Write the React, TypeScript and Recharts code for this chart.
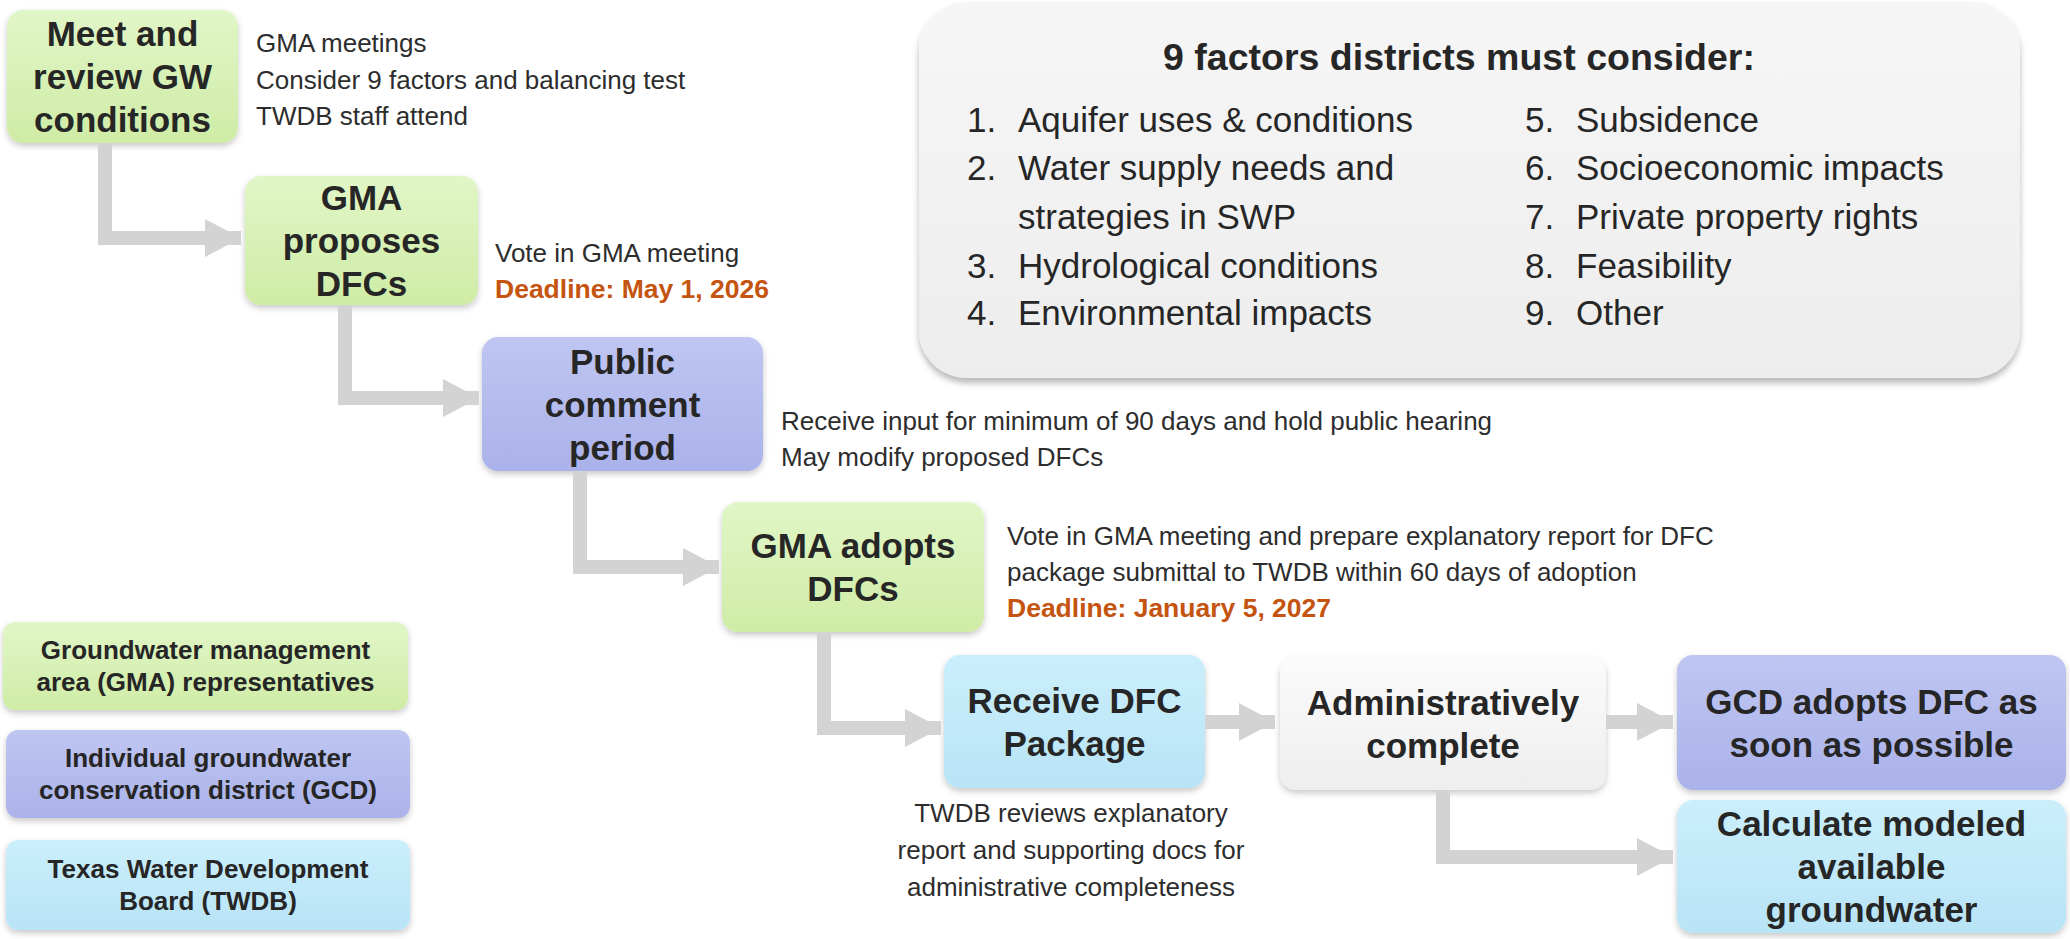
import { ScatterChart, Scatter, XAxis, YAxis, ReferenceArea } from "recharts";

const W = 2070;
const H = 939;
const FONT = '"Liberation Sans", Arial, Helvetica, sans-serif';
const INK = "#262626";
const NOTE_INK = "#2d2d2d";
const DEADLINE_INK = "#c4540f";
const ARROW = "#d3d3d3";

type Tone = "gma" | "gcd" | "twdb" | "admin" | "panel";

// flow steps, in page units (the axes map 1 unit to 1 px)
const steps = [
  { lines: ["Meet and", "review GW", "conditions"], x1: 7, x2: 238, y1: 10, y2: 143, tone: "gma" as Tone },
  { lines: ["GMA", "proposes", "DFCs"], x1: 245, x2: 478, y1: 176, y2: 305, tone: "gma" as Tone },
  { lines: ["Public", "comment", "period"], x1: 482, x2: 763, y1: 337, y2: 471, tone: "gcd" as Tone },
  { lines: ["GMA adopts", "DFCs"], x1: 722, x2: 984, y1: 502, y2: 632, tone: "gma" as Tone },
  { lines: ["Receive DFC", "Package"], x1: 944, x2: 1205, y1: 655, y2: 788, tone: "twdb" as Tone },
  { lines: ["Administratively", "complete"], x1: 1280, x2: 1606, y1: 657, y2: 790, tone: "admin" as Tone },
  { lines: ["GCD adopts DFC as", "soon as possible"], x1: 1677, x2: 2066, y1: 655, y2: 790, tone: "gcd" as Tone },
  { lines: ["Calculate modeled", "available", "groundwater"], x1: 1677, x2: 2066, y1: 800, y2: 933, tone: "twdb" as Tone },
];

const legendItems = [
  { lines: ["Groundwater management", "area (GMA) representatives"], x1: 3, x2: 408, y1: 622, y2: 710, tone: "gma" as Tone },
  { lines: ["Individual groundwater", "conservation district (GCD)"], x1: 6, x2: 410, y1: 730, y2: 818, tone: "gcd" as Tone },
  { lines: ["Texas Water Development", "Board (TWDB)"], x1: 6, x2: 410, y1: 840, y2: 930, tone: "twdb" as Tone },
];

const arrows = [
  [{ x: 105, y: 143 }, { x: 105, y: 238 }, { x: 241, y: 238 }],
  [{ x: 345, y: 305 }, { x: 345, y: 398 }, { x: 479, y: 398 }],
  [{ x: 580, y: 471 }, { x: 580, y: 567 }, { x: 719, y: 567 }],
  [{ x: 824, y: 632 }, { x: 824, y: 728 }, { x: 941, y: 728 }],
  [{ x: 1205, y: 722 }, { x: 1275, y: 722 }],
  [{ x: 1606, y: 722 }, { x: 1673, y: 722 }],
  [{ x: 1443, y: 790 }, { x: 1443, y: 857 }, { x: 1673, y: 857 }],
];

const notes = [
  { x: 256, y: 43, text: "GMA meetings", kind: "note" },
  { x: 256, y: 80, text: "Consider 9 factors and balancing test", kind: "note" },
  { x: 256, y: 116, text: "TWDB staff attend", kind: "note" },
  { x: 495, y: 253, text: "Vote in GMA meeting", kind: "note" },
  { x: 495, y: 289, text: "Deadline: May 1, 2026", kind: "deadline" },
  { x: 781, y: 421, text: "Receive input for minimum of 90 days and hold public hearing", kind: "note" },
  { x: 781, y: 457, text: "May modify proposed DFCs", kind: "note" },
  { x: 1007, y: 536, text: "Vote in GMA meeting and prepare explanatory report for DFC", kind: "note" },
  { x: 1007, y: 572, text: "package submittal to TWDB within 60 days of adoption", kind: "note" },
  { x: 1007, y: 608, text: "Deadline: January 5, 2027", kind: "deadline" },
  { x: 1071, y: 813, text: "TWDB reviews explanatory", kind: "center" },
  { x: 1071, y: 850, text: "report and supporting docs for", kind: "center" },
  { x: 1071, y: 887, text: "administrative completeness", kind: "center" },
];

const panel = { x1: 919, x2: 2020, y1: 2, y2: 378 };
const panelTitle = [{ x: 1459, y: 57, text: "9 factors districts must consider:" }];
const factorRows = [120, 168, 217, 266, 313];
const leftNums = ["1.", "2.", "", "3.", "4."];
const leftFactors = ["Aquifer uses & conditions", "Water supply needs and", "strategies in SWP", "Hydrological conditions", "Environmental impacts"];
const rightNums = ["5.", "6.", "7.", "8.", "9."];
const rightFactors = ["Subsidence", "Socioeconomic impacts", "Private property rights", "Feasibility", "Other"];

const factorPoints = [
  ...factorRows.map((y, i) => ({ x: 967, y, num: leftNums[i], text: leftFactors[i] })),
  ...factorRows.map((y, i) => ({ x: 1525, y, num: rightNums[i], text: rightFactors[i] })),
];

const fills: Record<Tone, [string, string]> = {
  gma: ["#e1f6c7", "#cfeca6"],
  gcd: ["#bfc6f2", "#aab2ea"],
  twdb: ["#cbeefb", "#b8e4f6"],
  admin: ["#fbfbfb", "#eeeeee"],
  panel: ["#f6f6f6", "#ededed"],
};

const Defs = () => (
  <defs>
    {(Object.keys(fills) as Tone[]).map((t) => (
      <linearGradient key={t} id={`grad-${t}`} x1="0" y1="0" x2="0" y2="1">
        <stop offset="0%" stopColor={fills[t][0]} />
        <stop offset="100%" stopColor={fills[t][1]} />
      </linearGradient>
    ))}
    <filter id="soft" x="-10%" y="-10%" width="120%" height="130%">
      <feDropShadow dx="0" dy="3" stdDeviation="3" floodColor="#000" floodOpacity="0.22" />
    </filter>
    <filter id="panelShadow" x="-5%" y="-5%" width="110%" height="115%">
      <feDropShadow dx="0" dy="5" stdDeviation="3" floodColor="#000" floodOpacity="0.28" />
    </filter>
  </defs>
);

const makeBox = (lines: string[], tone: Tone, fontSize: number, gap: number, radius: number) => (props: any) => {
  const { x, y, width, height } = props;
  const cx = x + width / 2;
  const cy = y + height / 2;
  const n = lines.length;
  return (
    <g>
      <rect x={x} y={y} width={width} height={height} rx={radius} fill={`url(#grad-${tone})`} filter="url(#soft)" />
      {lines.map((t, i) => (
        <text
          key={i}
          x={cx}
          y={cy + (i - (n - 1) / 2) * gap + fontSize * 0.36}
          textAnchor="middle"
          fontFamily={FONT}
          fontWeight="bold"
          fontSize={fontSize}
          fill={INK}
        >
          {t}
        </text>
      ))}
    </g>
  );
};

const panelShape = (props: any) => {
  const { x, y, width, height } = props;
  return (
    <g>
      <Defs />
      <rect x={x} y={y} width={width} height={height} rx={48} fill="url(#grad-panel)" filter="url(#panelShadow)" />
    </g>
  );
};

const ArrowHead = (props: any) => {
  const { cx, cy, payload } = props;
  if (!payload.tip) return <g />;
  return <polygon points={`${cx - 36},${cy - 19} ${cx},${cy} ${cx - 36},${cy + 19}`} fill={ARROW} />;
};

const NoteText = (props: any) => {
  const { cx, cy, payload } = props;
  const deadline = payload.kind === "deadline";
  return (
    <text
      x={cx}
      y={cy + 9}
      textAnchor={payload.kind === "center" ? "middle" : "start"}
      fontFamily={FONT}
      fontSize={deadline ? 26.5 : 26}
      fontWeight={deadline ? "bold" : "normal"}
      fill={deadline ? DEADLINE_INK : NOTE_INK}
    >
      {payload.text}
    </text>
  );
};

const TitleText = (props: any) => (
  <text x={props.cx} y={props.cy + 13} textAnchor="middle" fontFamily={FONT} fontSize={37.5} fontWeight="bold" fill={INK}>
    {props.payload.text}
  </text>
);

const FactorText = (props: any) => {
  const { cx, cy, payload } = props;
  return (
    <g fontFamily={FONT} fontSize={35} fill={INK}>
      <text x={cx} y={cy + 12}>{payload.num}</text>
      <text x={cx + 51} y={cy + 12}>{payload.text}</text>
    </g>
  );
};

export default function App() {
  return (
    <div style={{ width: W, height: H, background: "#ffffff" }}>
      <style>{`body{margin:0}`}</style>
      <ScatterChart width={W} height={H} margin={{ top: 0, right: 0, bottom: 0, left: 0 }}>
        <XAxis type="number" dataKey="x" domain={[0, W]} hide allowDataOverflow />
        <YAxis type="number" dataKey="y" domain={[0, H]} reversed hide allowDataOverflow />
        <ReferenceArea
          x1={panel.x1}
          x2={panel.x2}
          y1={panel.y1}
          y2={panel.y2}
          ifOverflow="visible"
          shape={panelShape}
        />
        {arrows.map((pts, i) => (
          <Scatter
            key={`a${i}`}
            data={pts.map((p, j) => ({ ...p, tip: j === pts.length - 1 }))}
            line={{ stroke: ARROW, strokeWidth: 14 }}
            lineJointType="linear"
            shape={ArrowHead}
            isAnimationActive={false}
            legendType="none"
          />
        ))}
        {steps.map((s, i) => (
          <ReferenceArea
            key={`s${i}`}
            x1={s.x1}
            x2={s.x2}
            y1={s.y1}
            y2={s.y2}
            ifOverflow="visible"
            shape={makeBox(s.lines, s.tone, 35, 43, 16)}
          />
        ))}
        {legendItems.map((s, i) => (
          <ReferenceArea
            key={`l${i}`}
            x1={s.x1}
            x2={s.x2}
            y1={s.y1}
            y2={s.y2}
            ifOverflow="visible"
            shape={makeBox(s.lines, s.tone, 26, 32, 12)}
          />
        ))}
        <Scatter data={notes} shape={NoteText} isAnimationActive={false} legendType="none" />
        <Scatter data={panelTitle} shape={TitleText} isAnimationActive={false} legendType="none" />
        <Scatter data={factorPoints} shape={FactorText} isAnimationActive={false} legendType="none" />
      </ScatterChart>
    </div>
  );
}
